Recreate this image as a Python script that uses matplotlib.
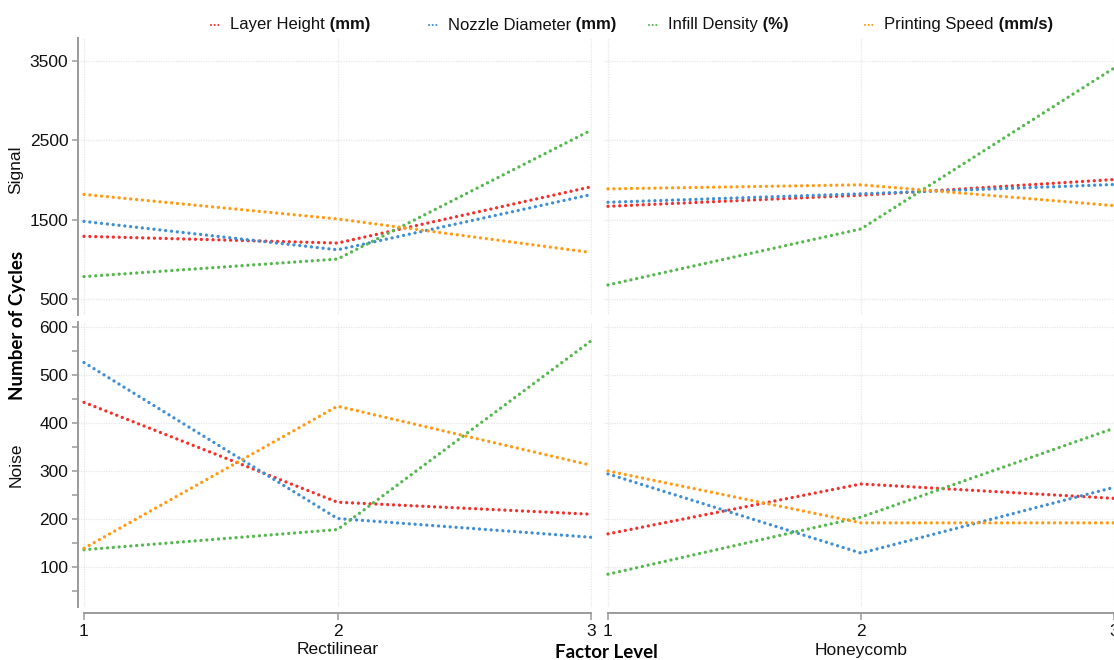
import matplotlib
matplotlib.use("Agg")
import matplotlib.pyplot as plt
from matplotlib.lines import Line2D
import numpy as np

# ---- data ----
levels = [1, 2, 3]
factors = ["Layer Height", "Nozzle Diameter", "Infill Density", "Printing Speed"]
units = ["(mm)", "(mm)", "(%)", "(mm/s)"]
colors = ["#f2302c", "#3f8fd2", "#55b84e", "#ff9a12"]

signal_rect = {
    "Layer Height": [1290, 1205, 1914],
    "Nozzle Diameter": [1478, 1120, 1816],
    "Infill Density": [782, 1003, 2627],
    "Printing Speed": [1818, 1509, 1086],
}
signal_honey = {
    "Layer Height": [1668, 1808, 2006],
    "Nozzle Diameter": [1719, 1826, 1943],
    "Infill Density": [677, 1383, 3411],
    "Printing Speed": [1888, 1939, 1677],
}
noise_rect = {
    "Layer Height": [443, 235, 210],
    "Nozzle Diameter": [526, 201, 162],
    "Infill Density": [136, 178, 571],
    "Printing Speed": [139, 435, 312],
}
noise_honey = {
    "Layer Height": [169, 273, 243],
    "Nozzle Diameter": [294, 129, 266],
    "Infill Density": [85, 204, 389],
    "Printing Speed": [300, 192, 192],
}
panel_names = ["Rectilinear", "Honeycomb"]
signal_ticks = [500, 1500, 2500, 3500]
noise_ticks = [100, 200, 300, 400, 500, 600]
noise_minor = [50, 150, 250, 350, 450, 550]

W, H = 1114, 660
fig = plt.figure(figsize=(W / 100, H / 100), dpi=100)
plt.rcParams["font.family"] = ["Liberation Sans", "DejaVu Sans"]


def px(x0, y0, x1, y1):
    return [x0 / W, 1 - y1 / H, (x1 - x0) / W, (y1 - y0) / H]


SP = "#9a9a9a"
GRID = "#e6e6e6"
DOT = (0, (0.01, 1.75))

axes = {}
specs = [
    ("tl", px(78, 38, 592, 315), signal_rect, (298, 3790), signal_ticks, (1 - 6 / 253.5, 3 + 1 / 253.5), True, False),
    ("bl", px(78, 322, 592, 607), noise_rect, (16.7, 610.4), noise_ticks, (1 - 6 / 253.5, 3 + 1 / 253.5), True, True),
    ("tr", px(604, 38, 1118, 315), signal_honey, (298, 3790), signal_ticks, (1 - 4 / 253, 3 + 4 / 253), False, False),
    ("br", px(604, 322, 1118, 607), noise_honey, (16.7, 610.4), noise_ticks, (1 - 4 / 253, 3 + 4 / 253), False, True),
]

for key, rect, data, ylim, yt, xlim, left, bottom in specs:
    ax = fig.add_axes(rect)
    axes[key] = ax
    for f, c in zip(factors, colors):
        ax.plot(levels, data[f], color=c, lw=2.4, linestyle=DOT,
                dash_capstyle="round", zorder=3)
    ax.set_xlim(*xlim)
    ax.set_ylim(*ylim)
    ax.set_yticks(yt)
    ax.set_xticks(levels)
    ax.grid(True, color=GRID, lw=0.9, linestyle=(0, (1, 1)), zorder=0)
    for s in ["top", "right"]:
        ax.spines[s].set_visible(False)
    ax.spines["left"].set_visible(left)
    ax.spines["left"].set_color(SP)
    ax.spines["left"].set_linewidth(1.4)
    ax.spines["bottom"].set_visible(bottom)
    ax.spines["bottom"].set_color(SP)
    ax.spines["bottom"].set_linewidth(1.4)
    ax.spines["bottom"].set_bounds(1, 3)
    ax.spines["bottom"].set_position(("outward", 4))
    ax.tick_params(axis="y", left=left, labelleft=left, direction="out", length=4,
                   width=1.1, color=SP, pad=3, labelsize=12.5, labelcolor="#111111")
    ax.tick_params(axis="x", bottom=bottom, labelbottom=bottom, direction="out", length=5,
                   width=1.1, color=SP, pad=3, labelsize=12.5, labelcolor="#111111")
    if key == "bl":
        ax.set_yticks(noise_minor, minor=True)
        ax.tick_params(axis="y", which="minor", length=4, width=1.1, color=SP)
        ax.tick_params(axis="x", which="minor", bottom=False)
    ax.set_facecolor("none")

# panel names
for key, name in zip(["bl", "br"], panel_names):
    axes[key].annotate(name, xy=(2, 0), xycoords=("data", "figure fraction"),
                       xytext=(2, 1 - 650 / H), textcoords=("data", "figure fraction"),
                       ha="center", va="center", fontsize=12.5, color="#111111")

fig.text(606 / W, 1 - 653 / H, "Factor Level", ha="center", va="center",
         fontsize=13.5, fontweight="bold", family=["Lato", "DejaVu Sans"])
fig.text(18 / W, 1 - 325 / H, "Number of Cycles", ha="center", va="center",
         rotation=90, fontsize=13.5, fontweight="bold", family=["Lato", "DejaVu Sans"])
fig.text(16 / W, 1 - 170 / H, "Signal", ha="center", va="center", rotation=90,
         fontsize=12.5, color="#111111")
fig.text(16 / W, 1 - 465 / H, "Noise", ha="center", va="center", rotation=90,
         fontsize=12.5, color="#111111")

# legend
leg_x = [211, 429, 649, 865]
leg_y = 1 - 25 / H
for x0, f, u, c in zip(leg_x, factors, units, colors):
    fig.add_artist(Line2D([x0 / W, (x0 + 8) / W], [leg_y, leg_y], color=c, lw=1.5,
                          linestyle=(0, (0.01, 1.75)), dash_capstyle="round",
                          transform=fig.transFigure))
    t = fig.text((x0 + 19) / W, leg_y, f, ha="left", va="center", fontsize=12, color="#111111")
    plt.annotate(" " + u, xy=(1, 0.5), xycoords=t, va="center", ha="left",
                 fontsize=12, fontweight="bold", color="#111111",
                 annotation_clip=False)

fig.savefig("out.png", dpi=100, facecolor="white")
